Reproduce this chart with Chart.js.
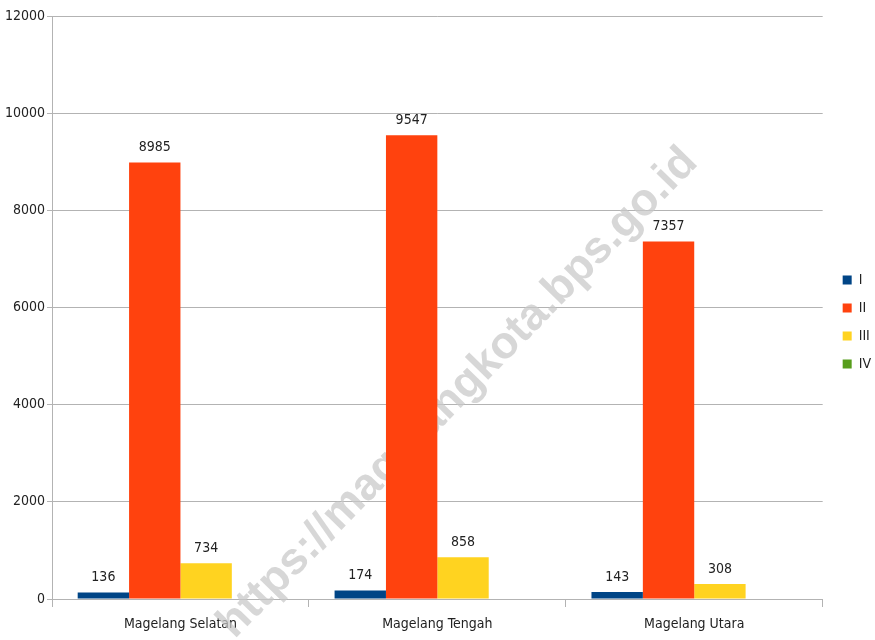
<!DOCTYPE html>
<html>
<head>
<meta charset="utf-8">
<script src="https://cdn.jsdelivr.net/npm/chart.js@4.4.1/dist/chart.umd.min.js"></script>
<style>
html,body{margin:0;padding:0;background:#fff;}
#wrap{width:875px;height:640px;position:relative;}
</style>
</head>
<body>
<div id="wrap"><canvas id="c"></canvas></div>
<script>
const categories = ["Magelang Selatan", "Magelang Tengah", "Magelang Utara"];
const seriesNames = ["I", "II", "III", "IV"];
const valuesI = [136, 174, 143];
const valuesII = [8985, 9547, 7357];
const valuesIII = [734, 858, 308];
const valuesIV = [0, 0, 0];
const yTicks = [0, 2000, 4000, 6000, 8000, 10000, 12000];
const colors = ["#004586", "#ff420e", "#ffd320", "#579d1c"];
const watermarkText = "https://magelangkota.bps.go.id";

const FONT = "'DejaVu Sans Condensed', 'Liberation Sans', Arial, sans-serif";
const GRID = "#b3b3b3";

const watermark = {
  id: 'watermark',
  beforeDatasetsDraw(chart) {
    const ctx = chart.ctx;
    ctx.save();
    ctx.translate(458, 393);
    ctx.rotate(-Math.PI / 4 - 0.012);
    ctx.font = "bold 45px 'Liberation Sans', Arial, sans-serif";
    ctx.fillStyle = "rgba(200,200,200,0.72)";
    ctx.textAlign = "center";
    ctx.textBaseline = "middle";
    ctx.fillText(watermarkText, 0, 0);
    ctx.restore();
  }
};

const legendShift = {
  id: 'legendShift',
  afterLayout(chart) {
    const l = chart.legend;
    if (!l) return;
    l.top -= 6; l.bottom -= 6;
    l.left += 6; l.right += 6;
  }
};

const barLabels = {
  id: 'barLabels',
  afterDatasetsDraw(chart) {
    const ctx = chart.ctx;
    ctx.save();
    ctx.font = "14px " + FONT;
    ctx.fillStyle = "#222";
    ctx.textAlign = "center";
    ctx.textBaseline = "bottom";
    chart.data.datasets.forEach((ds, i) => {
      const meta = chart.getDatasetMeta(i);
      meta.data.forEach((bar, j) => {
        const v = ds.data[j];
        if (!v) return;
        ctx.fillText(String(v), bar.x, bar.y - 8);
      });
    });
    ctx.restore();
  }
};

const ds = [valuesI, valuesII, valuesIII, valuesIV].map((d, i) => ({
  label: seriesNames[i],
  data: d,
  backgroundColor: colors[i],
  borderWidth: 0,
  categoryPercentage: 0.8,
  barPercentage: 1.0
}));

new Chart(document.getElementById('c'), {
  type: 'bar',
  data: { labels: categories, datasets: ds },
  plugins: [watermark, barLabels, legendShift],
  options: {
    responsive: true,
    maintainAspectRatio: false,
    animation: false,
    layout: { padding: { top: 16, left: 0, right: 0, bottom: 0 } },
    plugins: {
      legend: {
        position: 'right',
        align: 'center',
        labels: {
          boxWidth: 9,
          boxHeight: 9,
          padding: 14,
          color: '#222',
          font: { family: FONT, size: 14 }
        }
      },
      tooltip: { enabled: false }
    },
    scales: {
      x: {
        offset: true,
        grid: {
          offset: true,
          color: (c) => (c.index === categories.length ? GRID : 'transparent'),
          tickColor: GRID,
          tickLength: 8,
          lineWidth: 1
        },
        border: { color: GRID },
        ticks: { color: '#222', font: { family: FONT, size: 14 }, padding: 9 },
        afterFit: (s) => { s.height = 41; }
      },
      y: {
        min: 0,
        max: 12000,
        afterBuildTicks: (s) => { s.ticks = yTicks.map(v => ({ value: v })); },
        grid: { color: GRID, tickColor: GRID, tickLength: 5 },
        border: { color: GRID },
        ticks: { color: '#222', font: { family: FONT, size: 14 }, padding: 2, callback: (v) => String(v) },
        afterFit: (s) => { s.width = 52; }
      }
    }
  }
});
</script>
</body>
</html>
